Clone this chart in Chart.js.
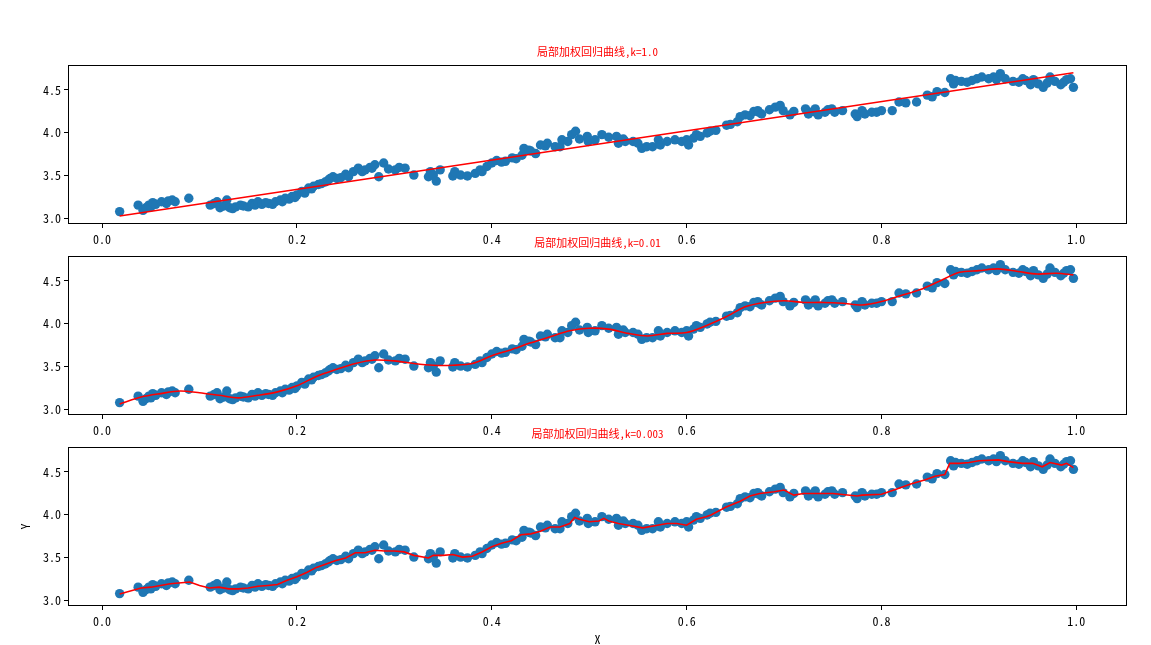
<!DOCTYPE html>
<html><head><meta charset="utf-8">
<script src="https://cdn.jsdelivr.net/npm/chart.js@4.4.0/dist/chart.umd.min.js"></script>
<style>
html,body{margin:0;padding:0;background:#fff;}
#wrap{position:relative;width:1151px;height:645px;overflow:hidden;background:#fff;}
canvas{position:absolute;left:0;}
</style></head><body><div id="wrap">
<canvas id="c1"></canvas><canvas id="c2"></canvas><canvas id="c3"></canvas>
</div>
<script>
// scatter data (x, y)
const dataX = [0.018,0.037,0.042,0.045,0.048,0.050,0.052,0.055,0.061,0.066,0.068,0.072,0.075,0.089,
0.111,0.115,0.118,0.121,0.125,0.128,0.131,0.134,0.137,0.142,0.145,0.150,0.154,0.157,0.160,0.164,0.168,
0.171,0.175,0.178,0.183,0.185,0.188,0.192,0.195,0.198,0.200,0.205,0.208,0.212,0.215,0.217,0.222,0.225,
0.229,0.232,0.234,0.237,0.241,0.245,0.250,0.253,0.258,0.263,0.267,0.270,0.275,0.277,0.280,0.284,0.289,
0.294,0.301,0.305,0.311,0.320,0.335,0.337,0.340,0.343,0.347,0.360,0.362,0.368,0.375,0.383,0.388,0.390,
0.395,0.400,0.405,0.410,0.414,0.421,0.425,0.431,0.433,0.438,0.440,0.445,0.450,0.455,0.457,0.465,0.470,
0.472,0.478,0.482,0.486,0.490,0.498,0.499,0.506,0.513,0.520,0.528,0.530,0.535,0.537,0.545,0.550,0.554,
0.559,0.565,0.571,0.573,0.580,0.588,0.595,0.600,0.602,0.607,0.610,0.614,0.621,0.624,0.630,0.641,0.645,
0.652,0.655,0.660,0.665,0.669,0.673,0.674,0.677,0.685,0.691,0.696,0.699,0.706,0.710,0.722,0.725,0.730,
0.732,0.735,0.742,0.745,0.749,0.752,0.760,0.773,0.775,0.780,0.783,0.790,0.795,0.800,0.811,0.818,0.825,
0.836,0.847,0.852,0.857,0.865,0.871,0.874,0.876,0.882,0.888,0.893,0.898,0.903,0.910,0.915,0.918,0.922,
0.927,0.935,0.941,0.945,0.948,0.953,0.956,0.961,0.966,0.970,0.973,0.978,0.984,0.987,0.990,0.994,0.997];
const dataY = [3.085,3.16,3.10,3.13,3.16,3.14,3.19,3.17,3.20,3.18,3.21,3.22,3.20,3.24,
3.16,3.18,3.20,3.13,3.15,3.22,3.13,3.12,3.14,3.16,3.15,3.14,3.18,3.16,3.20,3.17,3.19,
3.18,3.17,3.20,3.22,3.20,3.24,3.23,3.26,3.25,3.28,3.32,3.30,3.36,3.35,3.38,3.40,3.41,
3.43,3.45,3.47,3.49,3.47,3.48,3.52,3.49,3.55,3.59,3.55,3.57,3.60,3.59,3.63,3.49,3.65,
3.58,3.57,3.60,3.59,3.51,3.49,3.55,3.51,3.44,3.57,3.50,3.55,3.51,3.50,3.53,3.57,3.55,
3.61,3.65,3.68,3.66,3.67,3.71,3.70,3.74,3.82,3.80,3.79,3.76,3.86,3.85,3.88,3.84,3.84,
3.92,3.90,3.98,4.02,3.93,3.96,3.90,3.92,3.98,3.95,3.96,3.88,3.93,3.90,3.90,3.88,3.82,
3.84,3.84,3.92,3.86,3.90,3.92,3.90,3.92,3.86,3.94,3.98,3.96,4.00,4.02,4.03,4.09,4.10,
4.13,4.19,4.21,4.20,4.25,4.26,4.24,4.22,4.27,4.30,4.32,4.26,4.21,4.25,4.28,4.22,4.25,
4.28,4.21,4.24,4.27,4.28,4.24,4.26,4.22,4.19,4.26,4.22,4.24,4.24,4.26,4.26,4.36,4.35,
4.36,4.44,4.42,4.48,4.47,4.63,4.57,4.61,4.60,4.59,4.61,4.63,4.65,4.63,4.65,4.62,4.69,
4.63,4.60,4.59,4.63,4.61,4.56,4.62,4.57,4.53,4.58,4.65,4.60,4.56,4.59,4.62,4.63,4.53];

// red regression curves
const line1X = [0.018, 0.997];
const line1Y = [3.035, 4.70];

const line2X = [0.018,0.04,0.06,0.08,0.10,0.12,0.14,0.16,0.18,0.20,0.22,0.24,0.26,0.28,0.30,0.32,0.34,0.36,0.38,0.40,
0.42,0.44,0.46,0.48,0.50,0.52,0.54,0.56,0.58,0.60,0.62,0.64,0.66,0.68,0.70,0.72,0.74,0.76,0.78,0.80,0.82,0.84,0.86,0.88,
0.90,0.92,0.94,0.96,0.98,0.997];
const line2Y = [3.07,3.15,3.19,3.22,3.20,3.17,3.14,3.17,3.21,3.28,3.39,3.47,3.54,3.58,3.57,3.54,3.52,3.52,3.54,3.63,
3.70,3.78,3.85,3.92,3.95,3.94,3.89,3.86,3.89,3.90,3.98,4.08,4.20,4.25,4.27,4.25,4.25,4.24,4.22,4.26,4.33,4.40,4.50,4.60,
4.62,4.64,4.61,4.58,4.59,4.57];

const line3X = [0.018,0.04,0.05,0.07,0.09,0.10,0.11,0.12,0.13,0.14,0.15,0.16,0.17,0.18,0.19,0.20,0.21,0.22,0.23,0.24,
0.25,0.26,0.27,0.28,0.29,0.30,0.31,0.32,0.335,0.34,0.35,0.36,0.37,0.38,0.39,0.40,0.41,0.42,0.43,0.44,0.45,0.46,0.47,
0.48,0.485,0.49,0.50,0.51,0.515,0.52,0.53,0.54,0.555,0.57,0.58,0.59,0.60,0.61,0.62,0.625,0.64,0.655,0.665,0.675,0.69,
0.70,0.71,0.72,0.735,0.75,0.775,0.78,0.80,0.815,0.83,0.845,0.855,0.865,0.87,0.88,0.89,0.90,0.92,0.93,0.945,0.955,
0.965,0.973,0.985,0.99,0.997];
const line3Y = [3.08,3.15,3.16,3.20,3.22,3.18,3.15,3.16,3.14,3.14,3.15,3.17,3.18,3.19,3.24,3.28,3.33,3.39,3.43,3.47,
3.50,3.56,3.56,3.59,3.58,3.58,3.57,3.53,3.50,3.53,3.53,3.54,3.51,3.52,3.57,3.63,3.67,3.70,3.77,3.78,3.81,3.86,3.86,
3.90,3.97,3.95,3.92,3.93,3.96,3.93,3.90,3.88,3.85,3.88,3.90,3.90,3.88,3.95,3.98,4.00,4.09,4.16,4.22,4.25,4.27,
4.29,4.23,4.25,4.25,4.25,4.22,4.23,4.24,4.30,4.36,4.41,4.45,4.47,4.60,4.60,4.61,4.63,4.64,4.62,4.60,4.60,
4.56,4.61,4.58,4.60,4.55];

const xTicks = [0.0,0.2,0.4,0.6,0.8,1.0];
const yTicks = [3.0,3.5,4.0,4.5];
const titles = ['局部加权回归曲线,k=1.0','局部加权回归曲线,k=0.01','局部加权回归曲线,k=0.003'];
const lines = [[line1X,line1Y],[line2X,line2Y],[line3X,line3Y]];

const W = 1151, LEFT = 68, RIGHT = 1127, PADTOP = 30, XAXH = 40;
const panels = [{top:65,bottom:224},{top:256,bottom:415},{top:447,bottom:606}];
const TICKFONT = {family:'"Noto Sans Mono CJK SC", "DejaVu Sans Mono", monospace', size:12};

panels.forEach((p, i) => {
  const cv = document.getElementById('c' + (i+1));
  const h = (p.bottom - p.top) + PADTOP + XAXH;
  cv.width = W; cv.height = h;
  cv.style.width = W + 'px'; cv.style.height = h + 'px';
  cv.style.top = (p.top - PADTOP) + 'px';
  const deco = {
    id: 'deco' + i,
    afterDraw(chart) {
      const {ctx, chartArea: a} = chart;
      ctx.save();
      ctx.strokeStyle = '#000'; ctx.lineWidth = 1;
      ctx.strokeRect(Math.round(a.left) + 0.5, Math.round(a.top) + 0.5,
                     Math.round(a.right - a.left) - 1, Math.round(a.bottom - a.top) - 1);
      ctx.fillStyle = '#ff0000';
      ctx.font = '11px "Noto Sans Mono CJK SC", "Noto Sans CJK SC", sans-serif';
      ctx.textAlign = 'center'; ctx.textBaseline = 'middle';
      ctx.fillText(titles[i], (a.left + a.right) / 2, a.top - 13);
      if (i === 2) {
        ctx.fillStyle = '#000';
        ctx.font = '12px "Noto Sans Mono CJK SC", "DejaVu Sans Mono", monospace';
        ctx.fillText('X', (a.left + a.right) / 2, a.bottom + 33);
        ctx.save();
        ctx.translate(25, (a.top + a.bottom) / 2);
        ctx.rotate(-Math.PI / 2);
        ctx.fillText('Y', 0, 0);
        ctx.restore();
      }
      ctx.restore();
    }
  };
  const [lx, ly] = lines[i];
  new Chart(cv, {
    data: {
      datasets: [
        { type: 'line', data: lx.map((x, k) => ({x, y: ly[k]})), borderColor: '#ff0000',
          borderWidth: 1.6, pointRadius: 0, tension: i === 1 ? 0.3 : 0, fill: false, order: 0 },
        { type: 'scatter', data: dataX.map((x, k) => ({x, y: dataY[k]})), backgroundColor: '#1f77b4',
          borderWidth: 0, pointRadius: 4.7, order: 1 }
      ]
    },
    options: {
      responsive: false, animation: false, devicePixelRatio: 1,
      layout: {padding: {top: PADTOP, left: 0, right: W - RIGHT, bottom: 0}},
      plugins: {legend: {display: false}, tooltip: {enabled: false}},
      scales: {
        x: {
          type: 'linear', position: 'bottom', min: -0.035, max: 1.052,
          afterBuildTicks: s => { s.ticks = xTicks.map(v => ({value: v})); },
          afterFit: s => { s.height = XAXH; s.paddingLeft = 0; s.paddingRight = 0; },
          ticks: {color: '#000', font: TICKFONT, padding: 4, maxRotation: 0, autoSkip: false,
                  callback: v => Number(v).toFixed(1)},
          grid: {display: true, drawOnChartArea: false, drawTicks: true, tickLength: 4, color: '#000'},
          border: {display: false}
        },
        y: {
          type: 'linear', min: 2.941, max: 4.79,
          afterBuildTicks: s => { s.ticks = yTicks.map(v => ({value: v})); },
          afterFit: s => { s.width = LEFT; s.paddingTop = 0; s.paddingBottom = 0; },
          ticks: {color: '#000', font: TICKFONT, padding: 3, callback: v => Number(v).toFixed(1)},
          grid: {display: true, drawOnChartArea: false, drawTicks: true, tickLength: 4, color: '#000'},
          border: {display: false}
        }
      }
    },
    plugins: [deco]
  });
});
</script></body></html>
